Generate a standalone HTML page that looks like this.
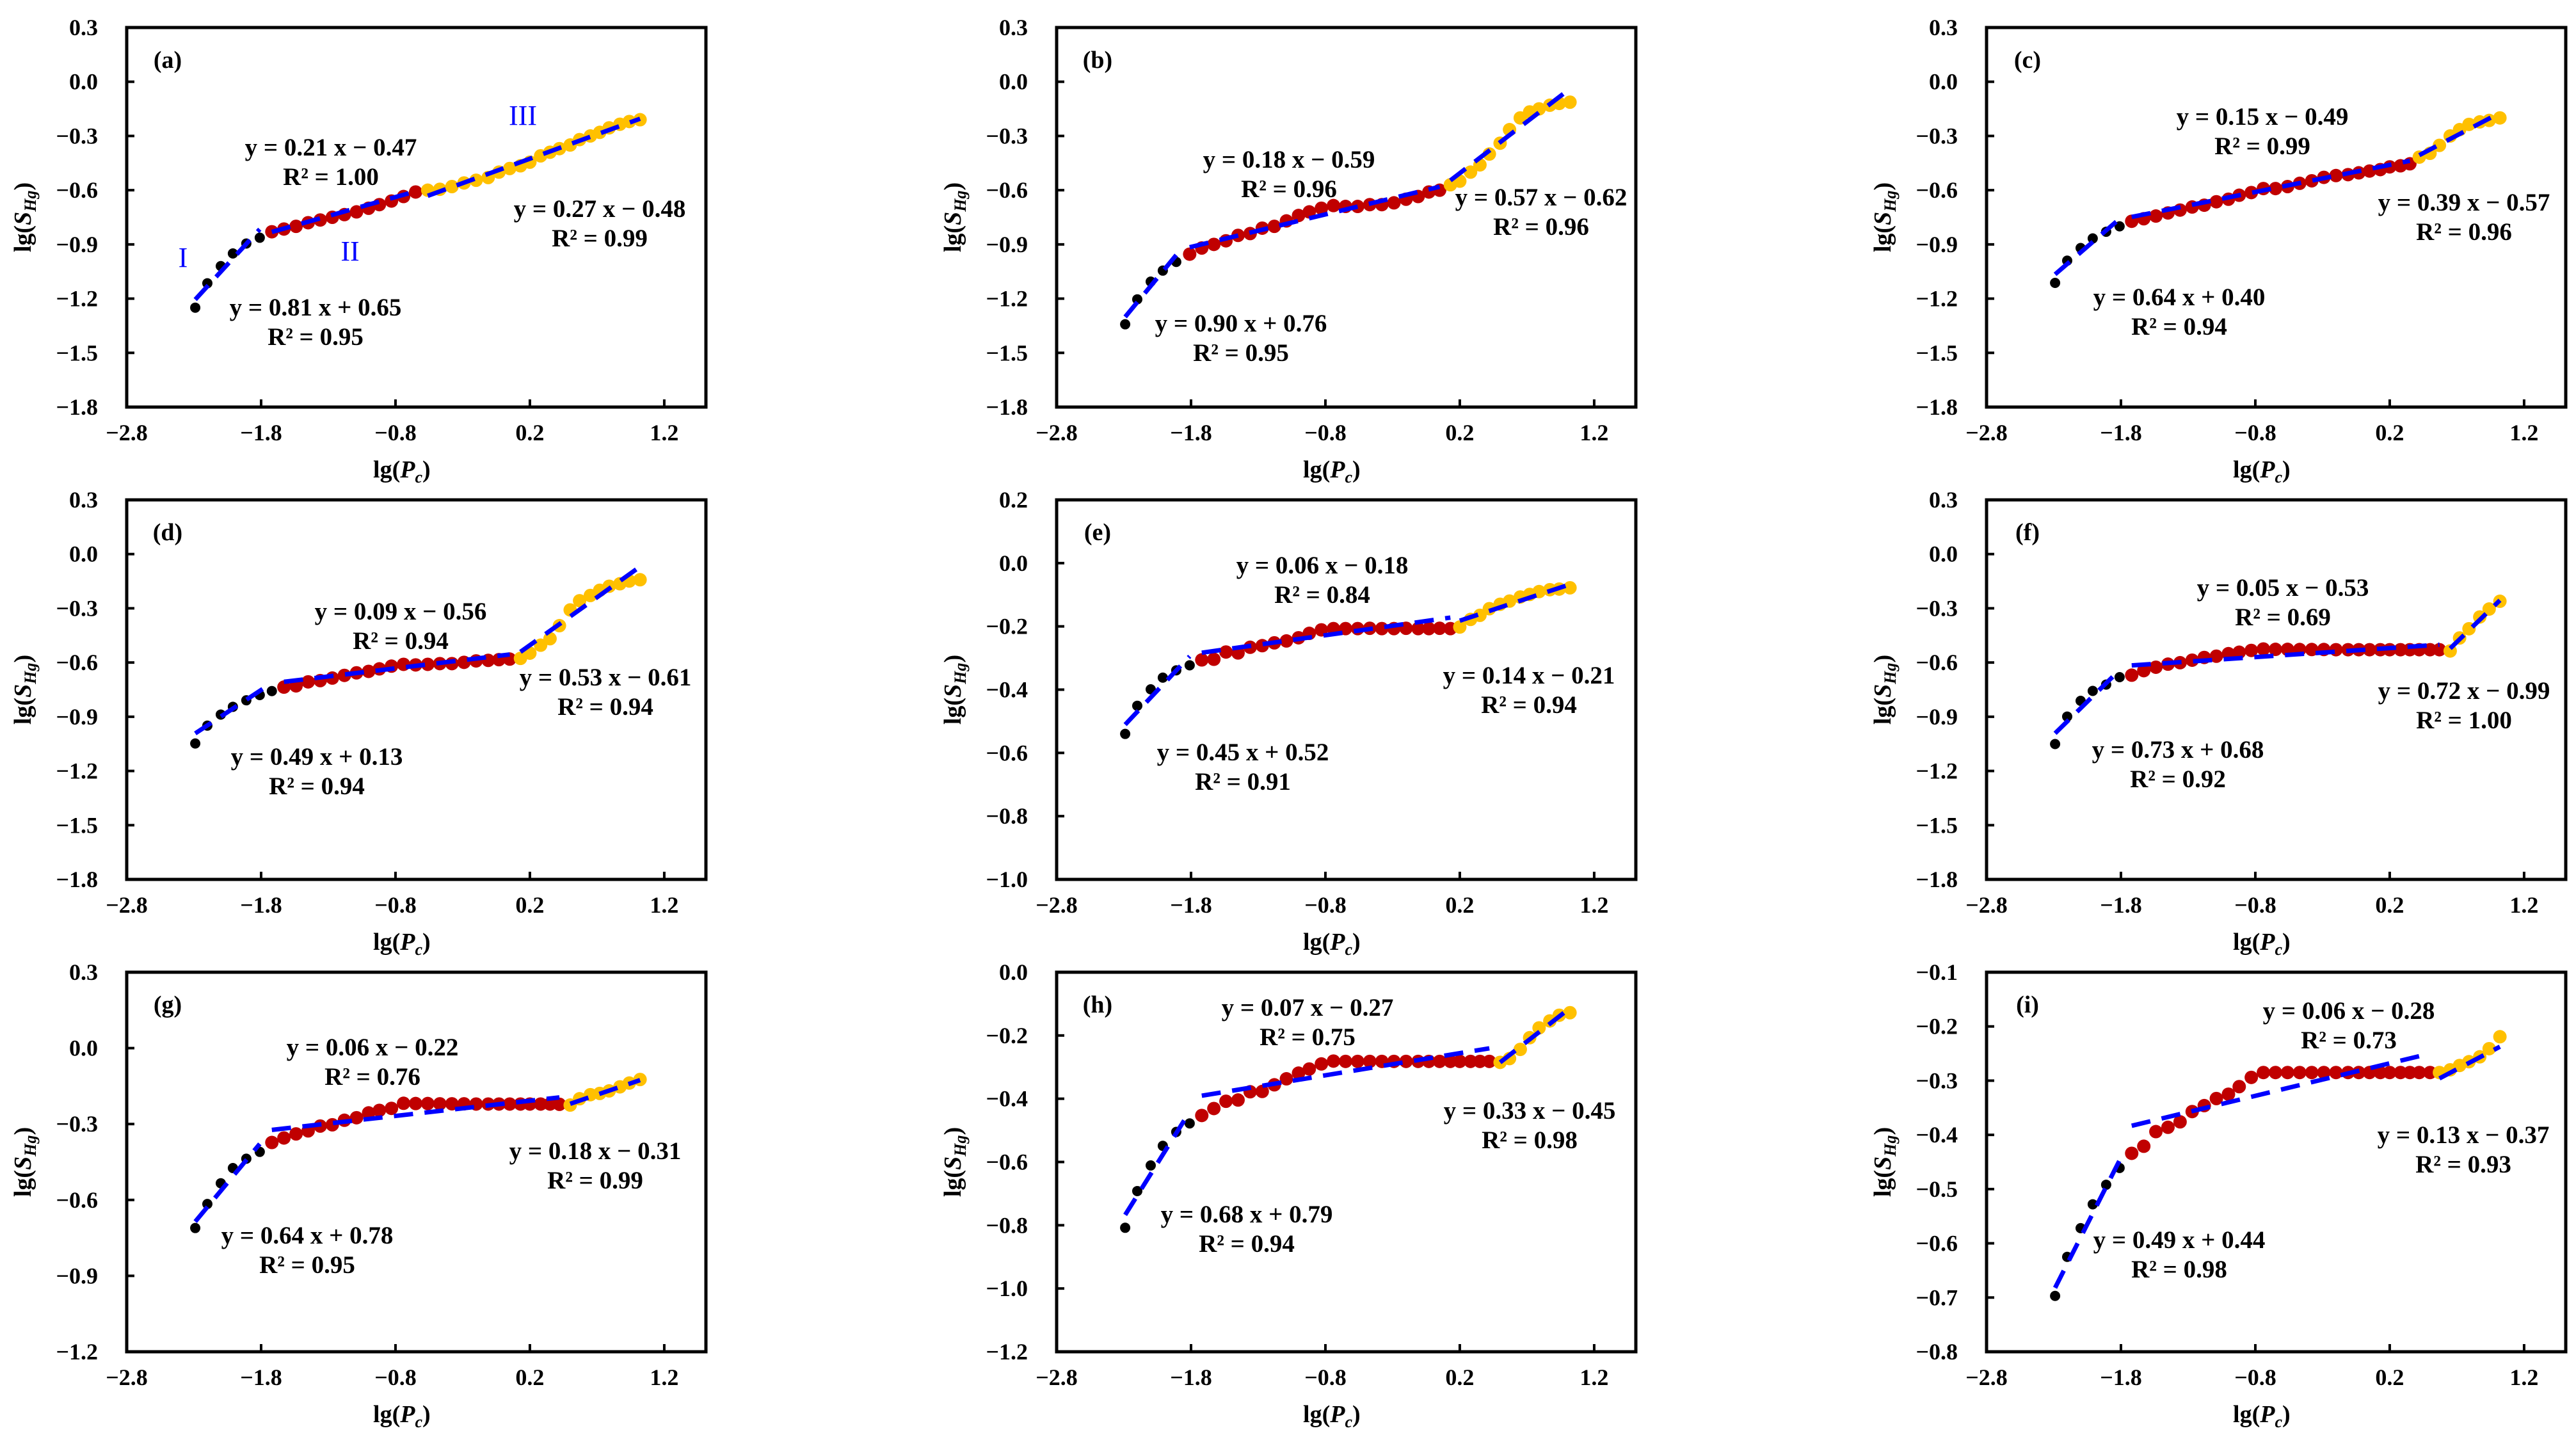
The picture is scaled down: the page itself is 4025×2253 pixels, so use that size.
<!DOCTYPE html>
<html><head><meta charset="utf-8">
<style>
html,body{margin:0;padding:0;background:#fff;}
svg{display:block;font-family:"Liberation Serif","DejaVu Serif",serif;}
.tk{font-size:36px;font-weight:bold;}
.eq{font-size:39px;font-weight:bold;}
.ttl{font-size:38px;font-weight:bold;}
</style></head>
<body>
<svg id="fig" width="4025" height="2253" viewBox="0 0 4025 2253" xmlns="http://www.w3.org/2000/svg"></svg>
<script>
// shared lg(Pc) values
const xs = [-2.29,-2.20,-2.10,-2.01,-1.91,-1.81,-1.72,-1.63,-1.54,-1.45,-1.36,-1.27,-1.18,-1.09,-1.00,-0.92,-0.83,-0.74,-0.65,-0.56,-0.47,-0.38,-0.29,-0.20,-0.11,-0.03,0.05,0.13,0.20,0.28,0.35,0.42,0.50,0.57,0.65,0.72,0.79,0.87,0.94,1.02];
const xTicks = [-2.8,-1.8,-0.8,0.2,1.2];
const panelLabels = ['(a)','(b)','(c)','(d)','(e)','(f)','(g)','(h)','(i)'];
// lg(SHg) values per sample
const yA = [-1.25,-1.115,-1.02,-0.95,-0.895,-0.863,-0.83,-0.815,-0.80,-0.78,-0.765,-0.75,-0.735,-0.72,-0.70,-0.68,-0.66,-0.635,-0.61,-0.60,-0.595,-0.58,-0.56,-0.545,-0.53,-0.50,-0.48,-0.465,-0.445,-0.41,-0.39,-0.37,-0.35,-0.32,-0.30,-0.28,-0.255,-0.235,-0.22,-0.21];
const yB = [-1.342,-1.204,-1.106,-1.045,-0.997,-0.954,-0.92,-0.90,-0.88,-0.85,-0.84,-0.81,-0.80,-0.77,-0.74,-0.72,-0.70,-0.685,-0.69,-0.69,-0.68,-0.68,-0.67,-0.65,-0.635,-0.61,-0.60,-0.57,-0.55,-0.50,-0.46,-0.40,-0.34,-0.265,-0.20,-0.167,-0.15,-0.13,-0.12,-0.113];
const yC = [-1.113,-0.99,-0.92,-0.867,-0.83,-0.80,-0.772,-0.758,-0.743,-0.726,-0.71,-0.693,-0.683,-0.664,-0.65,-0.628,-0.613,-0.591,-0.591,-0.58,-0.562,-0.548,-0.529,-0.519,-0.514,-0.504,-0.494,-0.486,-0.471,-0.465,-0.454,-0.417,-0.396,-0.352,-0.30,-0.265,-0.236,-0.222,-0.214,-0.20];
const yD = [-1.048,-0.949,-0.888,-0.845,-0.809,-0.78,-0.758,-0.736,-0.729,-0.707,-0.70,-0.686,-0.671,-0.657,-0.649,-0.635,-0.62,-0.61,-0.613,-0.61,-0.606,-0.606,-0.599,-0.591,-0.588,-0.584,-0.581,-0.577,-0.548,-0.504,-0.468,-0.396,-0.309,-0.258,-0.229,-0.20,-0.178,-0.164,-0.149,-0.142];
const yE = [-0.540,-0.451,-0.399,-0.362,-0.339,-0.323,-0.306,-0.304,-0.281,-0.284,-0.266,-0.261,-0.252,-0.246,-0.236,-0.222,-0.211,-0.207,-0.207,-0.207,-0.206,-0.207,-0.207,-0.206,-0.207,-0.207,-0.206,-0.207,-0.202,-0.178,-0.165,-0.144,-0.130,-0.12,-0.107,-0.099,-0.09,-0.084,-0.082,-0.078];
const yF = [-1.051,-0.899,-0.812,-0.757,-0.722,-0.681,-0.670,-0.645,-0.626,-0.609,-0.601,-0.587,-0.572,-0.565,-0.551,-0.543,-0.533,-0.525,-0.527,-0.527,-0.528,-0.528,-0.528,-0.529,-0.529,-0.529,-0.529,-0.529,-0.529,-0.529,-0.529,-0.529,-0.529,-0.529,-0.536,-0.464,-0.413,-0.348,-0.304,-0.261];
const yG = [-0.711,-0.616,-0.534,-0.474,-0.437,-0.41,-0.373,-0.355,-0.339,-0.327,-0.308,-0.303,-0.285,-0.275,-0.256,-0.246,-0.238,-0.218,-0.219,-0.219,-0.220,-0.220,-0.220,-0.221,-0.221,-0.221,-0.221,-0.221,-0.221,-0.221,-0.221,-0.222,-0.225,-0.20,-0.184,-0.179,-0.169,-0.153,-0.138,-0.124];
const yH = [-0.808,-0.692,-0.611,-0.549,-0.505,-0.478,-0.453,-0.431,-0.408,-0.404,-0.378,-0.377,-0.356,-0.337,-0.319,-0.306,-0.29,-0.281,-0.282,-0.282,-0.282,-0.282,-0.282,-0.282,-0.282,-0.282,-0.282,-0.282,-0.282,-0.282,-0.282,-0.282,-0.285,-0.273,-0.244,-0.207,-0.176,-0.154,-0.136,-0.128];
const yI = [-0.697,-0.625,-0.572,-0.528,-0.492,-0.461,-0.434,-0.421,-0.394,-0.386,-0.376,-0.357,-0.346,-0.333,-0.325,-0.311,-0.294,-0.285,-0.285,-0.285,-0.285,-0.285,-0.285,-0.285,-0.285,-0.285,-0.285,-0.285,-0.285,-0.285,-0.285,-0.285,-0.285,-0.285,-0.28,-0.272,-0.265,-0.256,-0.241,-0.219];
// stage boundaries: [end of stage I, end of stage II] (exclusive indices)
const breaksA=[6,19], breaksB=[5,27], breaksC=[6,31], breaksD=[7,27], breaksE=[6,28], breaksF=[6,34], breaksG=[6,32], breaksH=[6,32], breaksI=[6,33];
// fitted slopes / intercepts for stages I, II, III
const slopesA=[0.81,0.21,0.27], interA=[0.65,-0.47,-0.48];
const slopesB=[0.90,0.18,0.57], interB=[0.76,-0.59,-0.62];
const slopesC=[0.64,0.15,0.39], interC=[0.40,-0.49,-0.57];
const slopesD=[0.49,0.09,0.53], interD=[0.13,-0.56,-0.61];
const slopesE=[0.45,0.06,0.14], interE=[0.52,-0.18,-0.21];
const slopesF=[0.73,0.05,0.72], interF=[0.68,-0.53,-0.99];
const slopesG=[0.64,0.06,0.18], interG=[0.78,-0.22,-0.31];
const slopesH=[0.68,0.07,0.33], interH=[0.79,-0.27,-0.45];
const slopesI=[0.49,0.06,0.13], interI=[0.44,-0.28,-0.37];
const r2A=['0.95','1.00','0.99'], r2B=['0.95','0.96','0.96'], r2C=['0.94','0.99','0.96'], r2D=['0.94','0.94','0.94'], r2E=['0.91','0.84','0.94'], r2F=['0.92','0.69','1.00'], r2G=['0.95','0.76','0.99'], r2H=['0.94','0.75','0.98'], r2I=['0.98','0.73','0.93'];
// y-axis tick values
const yt18=[0.3,0.0,-0.3,-0.6,-0.9,-1.2,-1.5,-1.8];
const ytE=[0.2,0.0,-0.2,-0.4,-0.6,-0.8,-1.0];
const ytG=[0.3,0.0,-0.3,-0.6,-0.9,-1.2];
const ytH=[0.0,-0.2,-0.4,-0.6,-0.8,-1.0,-1.2];
const ytI=[-0.1,-0.2,-0.3,-0.4,-0.5,-0.6,-0.7,-0.8];

const NS='http://www.w3.org/2000/svg';
const svg=document.getElementById('fig');
function mk(tag,attrs,parent){const e=document.createElementNS(NS,tag);for(const k in attrs)e.setAttribute(k,attrs[k]);(parent||svg).appendChild(e);return e;}
function fmt(v){const s=Math.abs(v).toFixed(1);return (v<-1e-9?'\u2212':'')+s;}
function fmt2(v){return Math.abs(v).toFixed(2);}

const panels=[
 {ys:yA,br:breaksA,sl:slopesA,ic:interA,r2:r2A,yt:yt18,L:198,T:43,eq:[[493,481],[517,231],[937,327]]},
 {ys:yB,br:breaksB,sl:slopesB,ic:interB,r2:r2B,yt:yt18,L:1651,T:43,eq:[[1939,506],[2014,250],[2408,309]]},
 {ys:yC,br:breaksC,sl:slopesC,ic:interC,r2:r2C,yt:yt18,L:3104,T:43,eq:[[3405,465],[3535,183],[3850,317]]},
 {ys:yD,br:breaksD,sl:slopesD,ic:interD,r2:r2D,yt:yt18,L:198,T:781,eq:[[495,1183],[626,956],[946,1059]]},
 {ys:yE,br:breaksE,sl:slopesE,ic:interE,r2:r2E,yt:ytE,L:1651,T:781,eq:[[1942,1176],[2066,884],[2389,1056]]},
 {ys:yF,br:breaksF,sl:slopesF,ic:interF,r2:r2F,yt:yt18,L:3104,T:781,eq:[[3403,1172],[3567,919],[3850,1080]]},
 {ys:yG,br:breaksG,sl:slopesG,ic:interG,r2:r2G,yt:ytG,L:198,T:1519,eq:[[480,1931],[582,1637],[930,1799]]},
 {ys:yH,br:breaksH,sl:slopesH,ic:interH,r2:r2H,yt:ytH,L:1651,T:1519,eq:[[1948,1898],[2043,1575],[2390,1736]]},
 {ys:yI,br:breaksI,sl:slopesI,ic:interI,r2:r2I,yt:ytI,L:3104,T:1519,eq:[[3405,1938],[3670,1580],[3849,1774]]}
];
const W=905,H=593,XMIN=-2.8,XMAX=1.51;
const colors=['#000000','#c00000','#ffc000'];
const radii=[8,10.5,10.5];

panels.forEach((p,pi)=>{
  const g=mk('g',{});
  
  
  const ymax=p.yt[0], ymin=p.yt[p.yt.length-1];
  const sx=v=>p.L+(v-XMIN)/(XMAX-XMIN)*W;
  const sy=v=>p.T+(ymax-v)/(ymax-ymin)*H;
  const fr=mk('rect',{x:p.L,y:p.T,width:W,height:H,fill:'none',stroke:'#000','stroke-width':5},g);
  
  
  xTicks.forEach(t=>{
    const X=sx(t);
    const tl=mk('line',{x1:X,x2:X,y1:p.T+H,y2:p.T+H-12,stroke:'#000','stroke-width':4},g);
    
    
    const tx=mk('text',{x:X,y:p.T+H+52,'text-anchor':'middle',class:'tk'},g);
    tx.textContent=fmt(t);
    
    
  });
  p.yt.forEach(t=>{
    const Y=sy(t);
    const tl=mk('line',{x1:p.L,x2:p.L+12,y1:Y,y2:Y,stroke:'#000','stroke-width':4},g);
    
    
    const tx=mk('text',{x:p.L-45,y:Y+12,'text-anchor':'end',class:'tk'},g);
    tx.textContent=fmt(t);
    
    
  });
  const xt=mk('text',{x:p.L+0.475*W,y:p.T+H+110,'text-anchor':'middle',class:'ttl'},g);
  xt.innerHTML='lg(<tspan font-style="italic">P</tspan><tspan font-style="italic" font-size="26" dy="8">c</tspan><tspan dy="-8">)</tspan>';
  
  
  const yx=p.L-150, yy=p.T+H/2;
  const ytl=mk('text',{x:yx,y:yy,'text-anchor':'middle',class:'ttl',transform:'rotate(-90 '+yx+' '+yy+')'},g);
  ytl.innerHTML='lg(<tspan font-style="italic">S</tspan><tspan font-style="italic" font-size="26" dy="8">Hg</tspan><tspan dy="-8">)</tspan>';
  
  
  const pl=mk('text',{x:p.L+64,y:p.T+63,'text-anchor':'middle',class:'ttl'},g);
  pl.textContent=panelLabels[pi];
  
  
  const starts=[0,p.br[0],p.br[1]], ends=[p.br[0],p.br[1],xs.length];
  const stageNames=['stage-1','stage-2','stage-3'];
  for(let s=0;s<3;s++){
    for(let i=starts[s];i<ends[s];i++){
      const c=mk('circle',{cx:sx(xs[i]),cy:sy(p.ys[i]),r:radii[s],fill:colors[s]},g);
      
      
    }
  }
  for(let s=0;s<3;s++){
    const x0=xs[starts[s]], x1=xs[ends[s]-1];
    const ln=mk('line',{x1:sx(x0),y1:sy(p.sl[s]*x0+p.ic[s]),x2:sx(x1),y2:sy(p.sl[s]*x1+p.ic[s]),stroke:'#0000ff','stroke-width':7,'stroke-dasharray':'30 18'},g);
    
    
    const [cx,cy]=p.eq[s];
    const sign=p.ic[s]<0?'\u2212':'+';
    const e1=mk('text',{x:cx,y:cy+12,'text-anchor':'middle',class:'eq'},g);
    e1.textContent='y = '+p.sl[s].toFixed(2)+' x '+sign+' '+fmt2(p.ic[s]);
    
    
    const e2=mk('text',{x:cx,y:cy+58,'text-anchor':'middle',class:'eq'},g);
    e2.textContent='R\u00B2 = '+p.r2[s];
    
    
  }
});
const romans=[['I',286,402],['II',547,392],['III',817,180]];
romans.forEach(r=>{
  const t=mk('text',{x:r[1],y:r[2]+15,'text-anchor':'middle','font-size':44,fill:'#0000ff'});
  t.textContent=r[0];
  
  
});
</script>
</body></html>
